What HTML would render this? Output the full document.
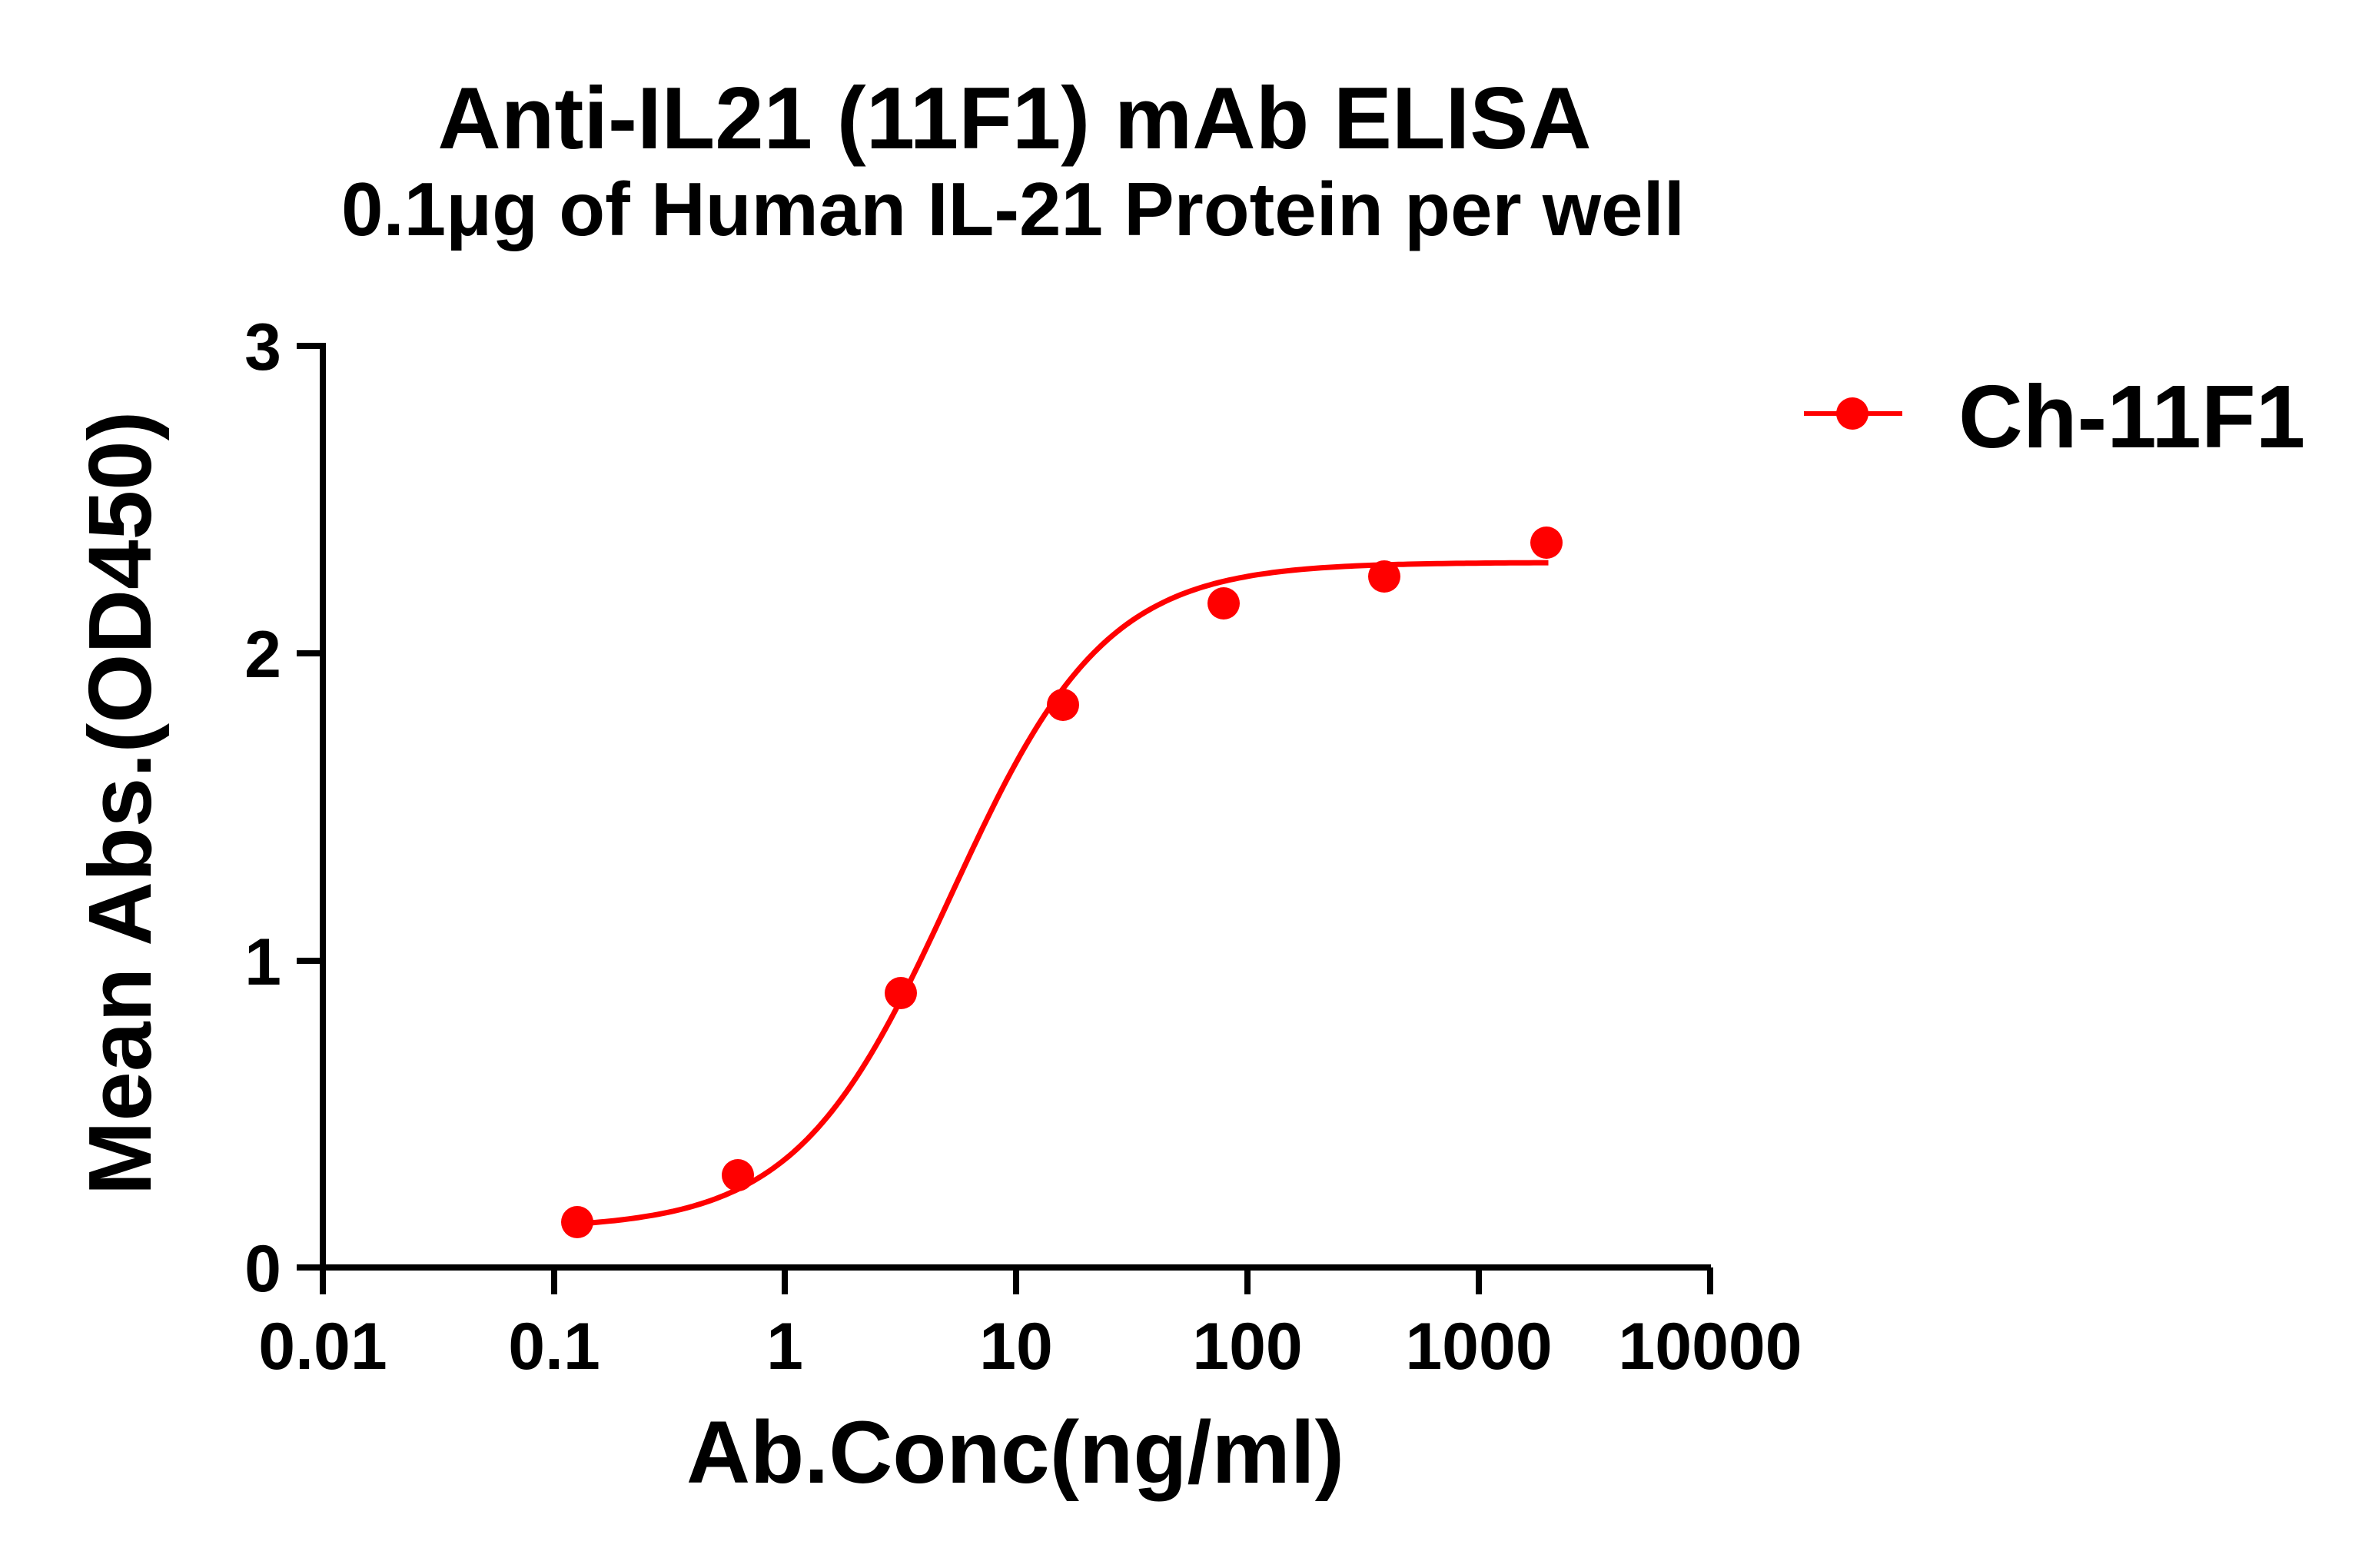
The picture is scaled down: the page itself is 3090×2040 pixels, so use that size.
<!DOCTYPE html>
<html><head><meta charset="utf-8"><style>
html,body{margin:0;padding:0;background:#fff;}
svg{display:block;font-family:"Liberation Sans",Arial,sans-serif;font-weight:bold;}
</style></head><body>
<svg id="s" width="3090" height="2040" viewBox="0 0 3090 2040" xmlns="http://www.w3.org/2000/svg">
<rect width="3090" height="2040" fill="#fff"/>
<text x="1320" y="193" font-size="114" text-anchor="middle">Anti-IL21 (11F1) mAb ELISA</text>
<text x="1318" y="306" font-size="98" text-anchor="middle">0.1μg of Human IL-21 Protein per well</text>
<g stroke="#000" stroke-width="8" fill="none">
<line x1="420" y1="446" x2="420" y2="1653"/>
<line x1="416" y1="1649" x2="2226" y2="1649"/>
<line x1="386" y1="450" x2="420" y2="450"/>
<line x1="386" y1="850" x2="420" y2="850"/>
<line x1="386" y1="1250" x2="420" y2="1250"/>
<line x1="386" y1="1649" x2="420" y2="1649"/>
<line x1="420" y1="1649" x2="420" y2="1684"/>
<line x1="721" y1="1649" x2="721" y2="1684"/>
<line x1="1021" y1="1649" x2="1021" y2="1684"/>
<line x1="1322" y1="1649" x2="1322" y2="1684"/>
<line x1="1623" y1="1649" x2="1623" y2="1684"/>
<line x1="1924" y1="1649" x2="1924" y2="1684"/>
<line x1="2225" y1="1649" x2="2225" y2="1684"/>
</g>
<g font-size="86" text-anchor="end">
<text x="366" y="481">3</text><text x="366" y="881">2</text>
<text x="366" y="1281">1</text><text x="366" y="1680">0</text>
</g>
<g font-size="86" text-anchor="middle">
<text x="420" y="1781">0.01</text><text x="721" y="1781">0.1</text>
<text x="1021" y="1781">1</text><text x="1322" y="1781">10</text>
<text x="1623" y="1781">100</text><text x="1924" y="1781">1000</text>
<text x="2225" y="1781">10000</text>
</g>
<text x="1321" y="1929" font-size="115" text-anchor="middle">Ab.Conc(ng/ml)</text>
<text transform="translate(196,1045) rotate(-90)" font-size="116" text-anchor="middle">Mean Abs.(OD450)</text>
<path id="curve" fill="none" stroke="#f00" stroke-width="7"/>
<g fill="#f00">
<circle cx="751" cy="1590" r="21"/><circle cx="960" cy="1529" r="21"/>
<circle cx="1172" cy="1292" r="21"/><circle cx="1383" cy="917" r="21"/>
<circle cx="1592" cy="785" r="21"/><circle cx="1801" cy="750" r="21"/>
<circle cx="2012" cy="706" r="21"/>
</g>
<line x1="2347" y1="538" x2="2475" y2="538" stroke="#f00" stroke-width="6"/>
<circle cx="2410" cy="538" r="21" fill="#f00"/>
<text x="2548" y="582" font-size="116">Ch-11F1</text>
</svg>
<script>
var d="";for(var i=0;i<=200;i++){var lx=Math.log10(0.13)+(Math.log10(2000)-Math.log10(0.13))*i/200;var x=Math.pow(10,lx);
var v=0.125+2.17/(1+Math.pow(5.2/x,1.3));var px=420+(lx+2)*300.8,py=1649-v*399.7;d+=(i?"L":"M")+px.toFixed(1)+" "+py.toFixed(1);}
document.getElementById("curve").setAttribute("d",d);
</script>
</body></html>
